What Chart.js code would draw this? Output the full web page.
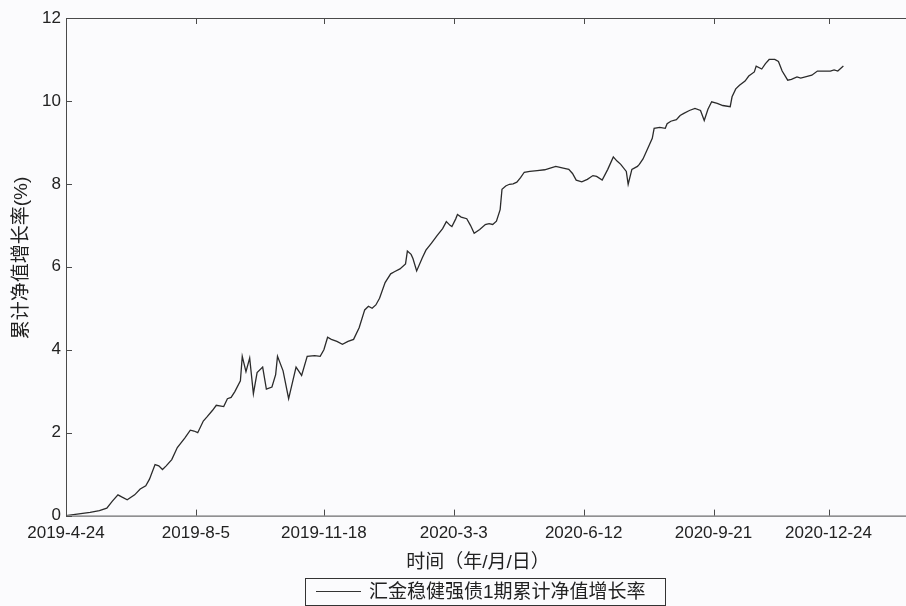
<!DOCTYPE html>
<html>
<head>
<meta charset="utf-8">
<title>累计净值增长率</title>
<script src="https://cdn.jsdelivr.net/npm/chart.js@4.4.1/dist/chart.umd.min.js"></script>
<style>
  html, body { margin: 0; padding: 0; background: #fbfbfd; overflow: hidden; }
  #grafico { display: block; }
</style>
</head>
<body>
<canvas id="grafico" width="944" height="606"></canvas>
<script>
/* dados (indice de dia util, % acumulado) */
const indice = [0, 3, 8, 13, 18, 22, 25, 28, 30, 33, 37, 40, 43, 45, 48, 50, 52, 54, 57, 60,
  64, 67, 69, 71, 74, 76, 79, 81, 85, 87, 89, 91, 94, 95, 97, 99, 101, 103, 106, 108,
  111, 113, 114, 117, 120, 122, 124, 127, 130, 134, 137, 139, 141, 143, 146, 149, 152, 155, 158, 161,
  163, 165, 167, 169, 172, 175, 177, 180, 183, 184, 186, 187, 189, 192, 194, 197, 200, 203, 205, 207,
  208, 210, 211, 213, 216, 218, 220, 223, 226, 228, 230, 232, 234, 235, 237, 239, 241, 243, 245, 247,
  250, 254, 258, 261, 264, 268, 271, 273, 275, 278, 281, 284, 286, 289, 292, 295, 297, 299, 302, 303,
  305, 308, 309, 311, 313, 316, 317, 320, 323, 324, 326, 329, 331, 333, 336, 339, 342, 344, 346, 348,
  351, 354, 358, 359, 361, 363, 366, 368, 371, 372, 375, 377, 379, 382, 384, 386, 389, 391, 394, 396,
  400, 402, 405, 408, 412, 414, 416, 419];

const crescimento = [0, 0.02, 0.05, 0.08, 0.12, 0.18, 0.35, 0.5, 0.45, 0.38, 0.5, 0.64, 0.72, 0.88, 1.23, 1.2, 1.11, 1.2, 1.35, 1.64,
  1.87, 2.06, 2.04, 2.0, 2.28, 2.38, 2.54, 2.66, 2.63, 2.82, 2.85, 2.99, 3.25, 3.84, 3.47, 3.8, 2.94, 3.45, 3.58, 3.05,
  3.1, 3.4, 3.84, 3.49, 2.82, 3.2, 3.58, 3.38, 3.84, 3.86, 3.84, 4.0, 4.3, 4.25, 4.2, 4.13, 4.2, 4.25, 4.53, 4.96,
  5.05, 5.0, 5.08, 5.24, 5.62, 5.83, 5.88, 5.95, 6.07, 6.38, 6.3, 6.2, 5.9, 6.21, 6.4, 6.57, 6.75, 6.92, 7.09, 7.0,
  6.97, 7.15, 7.26, 7.2, 7.16, 7.0, 6.81, 6.9, 7.02, 7.04, 7.02, 7.1, 7.38, 7.87, 7.95, 7.99, 8.0, 8.04, 8.15, 8.28,
  8.3, 8.32, 8.34, 8.38, 8.42, 8.38, 8.35, 8.25, 8.09, 8.05, 8.11, 8.2, 8.18, 8.09, 8.35, 8.65, 8.55, 8.47, 8.3, 7.99,
  8.35, 8.42, 8.47, 8.6, 8.8, 9.1, 9.34, 9.36, 9.34, 9.45, 9.51, 9.55, 9.65, 9.7, 9.77, 9.82, 9.77, 9.53, 9.8, 9.98,
  9.94, 9.89, 9.86, 10.1, 10.29, 10.38, 10.48, 10.6, 10.7, 10.84, 10.77, 10.9, 11.0, 11.0, 10.95, 10.72, 10.5, 10.52, 10.58, 10.55,
  10.6, 10.62, 10.72, 10.72, 10.72, 10.75, 10.72, 10.84];

const tickIdx = [0, 70, 139, 209, 279, 349, 411];
const tickDatas = ['2019-4-24', '2019-8-5', '2019-11-18', '2020-3-3', '2020-6-12', '2020-9-21', '2020-12-24'];
const yTicks = [0, 2, 4, 6, 8, 10, 12];

const nomeSerie = '汇金稳健强债1期累计净值增长率';
const tituloX = '时间（年/月/日）';
const tituloY = '累计净值增长率(%)';
const fonte = "'Liberation Sans', 'Noto Sans CJK SC', sans-serif";

/* moldura, marcas internas, titulos e legenda em caixa */
const moldura = {
  id: 'moldura',
  afterDraw(chart) {
    const { ctx, chartArea: a, scales } = chart;
    const x = scales.x, y = scales.y;
    ctx.save();
    ctx.strokeStyle = '#4a4a4a';
    ctx.lineWidth = 1;
    ctx.strokeRect(a.left + 0.5, a.top + 0.5, a.right - a.left, a.bottom - a.top);

    ctx.beginPath();
    y.ticks.forEach(t => {
      const py = Math.round(y.getPixelForValue(t.value)) + 0.5;
      ctx.moveTo(a.left, py); ctx.lineTo(a.left + 6, py);
    });
    x.ticks.forEach(t => {
      const px = Math.round(x.getPixelForValue(t.value)) + 0.5;
      ctx.moveTo(px, a.bottom); ctx.lineTo(px, a.bottom - 6);
      ctx.moveTo(px, a.top); ctx.lineTo(px, a.top + 6);
    });
    ctx.stroke();

    // titulos dos eixos
    ctx.fillStyle = '#222';
    ctx.font = '19px ' + fonte;
    ctx.textAlign = 'center';
    ctx.textBaseline = 'middle';
    ctx.fillText(tituloX, 478, 563);
    ctx.save();
    ctx.translate(22, 258);
    ctx.rotate(-Math.PI / 2);
    ctx.fillText(tituloY, 0, 0);
    ctx.restore();

    // legenda
    const bx = 305, by = 578, bw = 360, bh = 27;
    ctx.fillStyle = '#fbfbfd';
    ctx.fillRect(bx, by, bw, bh);
    ctx.strokeStyle = '#333';
    ctx.strokeRect(bx + 0.5, by + 0.5, bw, bh);
    ctx.beginPath();
    ctx.lineWidth = 1.2;
    ctx.moveTo(bx + 11, by + bh / 2);
    ctx.lineTo(bx + 56, by + bh / 2);
    ctx.stroke();
    ctx.fillStyle = '#222';
    ctx.font = '19px ' + fonte;
    ctx.textAlign = 'left';
    ctx.fillText(nomeSerie, bx + 64, by + bh / 2 + 1);
    ctx.restore();
  }
};

const ctx = document.getElementById('grafico').getContext('2d');

const grafico = new Chart(ctx, {
  type: 'line',
  data: {
    datasets: [{
      label: nomeSerie,
      data: indice.map((v, i) => ({ x: v, y: crescimento[i] })),
      borderColor: '#2b2b2b',
      borderWidth: 1.3,
      pointRadius: 0,
      tension: 0,
      fill: false
    }]
  },
  options: {
    responsive: false,
    animation: false,
    layout: { padding: { top: 18, right: 6, bottom: 54, left: 0 } },
    scales: {
      x: {
        type: 'linear',
        min: 0,
        max: 470,
        afterBuildTicks: s => { s.ticks = tickIdx.map(v => ({ value: v })); },
        grid: { display: false, drawTicks: false },
        border: { display: false },
        ticks: {
          autoSkip: false,
          maxRotation: 0,
          padding: 8,
          color: '#222',
          font: { family: fonte, size: 17 },
          callback: v => tickDatas[tickIdx.indexOf(v)]
        }
      },
      y: {
        min: 0,
        max: 12,
        afterBuildTicks: s => { s.ticks = yTicks.map(v => ({ value: v })); },
        afterFit: s => { s.width = 66; },
        grid: { display: false, drawTicks: false },
        border: { display: false },
        ticks: {
          padding: 5,
          color: '#222',
          font: { family: fonte, size: 17 }
        }
      }
    },
    plugins: {
      legend: { display: false },
      tooltip: { enabled: false }
    }
  },
  plugins: [moldura]
});
</script>
</body>
</html>
